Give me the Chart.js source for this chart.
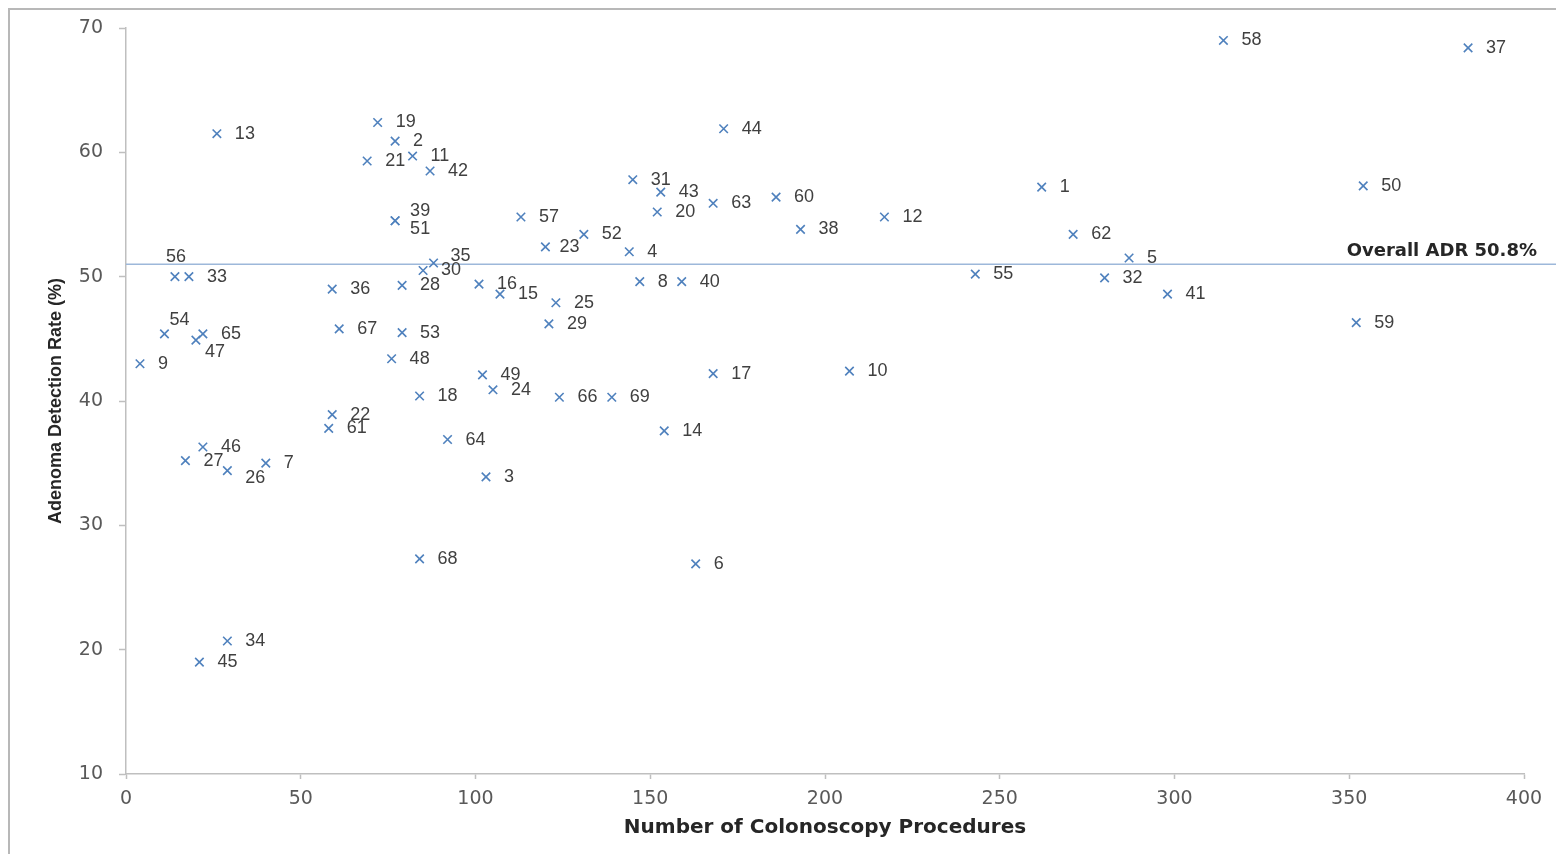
<!DOCTYPE html>
<html>
<head>
<meta charset="utf-8">
<title>ADR vs procedures</title>
<script src="https://cdn.jsdelivr.net/npm/chart.js@4.4.1/dist/chart.umd.min.js"></script>
<style>
  body { margin: 0; background: #fff; }
  #wrap { position: relative; width: 1556px; height: 854px; overflow: hidden; }
  #frame { position: absolute; left: 8px; top: 8px; width: 1700px; height: 1000px;
           border-left: 2px solid #b8b8b8; border-top: 2px solid #b8b8b8; }
  #stage { position: absolute; left: 0; top: 0; }
</style>
</head>
<body>
<div id="wrap">
  <div id="frame"></div>
  <canvas id="stage" width="1556" height="854"></canvas>
</div>
<script>
//「施設番号」
var siteIds = [
   1,  2,  3,  4,  5,  6,  7,  8,  9, 10,
  11, 12, 13, 14, 15, 16, 17, 18, 19, 20,
  21, 22, 23, 24, 25, 26, 27, 28, 29, 30,
  31, 32, 33, 34, 35, 36, 37, 38, 39, 40,
  41, 42, 43, 44, 45, 46, 47, 48, 49, 50,
  51, 52, 53, 54, 55, 56, 57, 58, 59, 60,
  61, 62, 63, 64, 65, 66, 67, 68, 69
];

//「大腸内視鏡の件数」
var procedures = [
  262,  77, 103, 144, 287, 163,  40, 147,   4, 207,
   82, 217,  26, 154, 107, 101, 168,  84,  72, 152,
   69,  59, 120, 105, 123,  29,  17,  79, 121,  85,
  145, 280,  18,  29,  88,  59, 384, 193,  77, 159,
  298,  87, 153, 171,  21,  22,  20,  76, 102, 354,
   77, 131,  79,  11, 243,  14, 113, 314, 352, 186,
   58, 271, 168,  92,  22, 124,  61,  84, 139
];

//「腺腫発見率 (%)」
var adrValues = [
  57.2, 60.9, 33.9, 52.0, 51.5, 26.9, 35.0, 49.6, 43.0, 42.4,
  59.7, 54.8, 61.5, 37.6, 48.6, 49.4, 42.2, 40.4, 62.4, 55.2,
  59.3, 38.9, 52.4, 40.9, 47.9, 34.4, 35.2, 49.3, 46.2, 50.5,
  57.8, 49.9, 50.0, 20.7, 51.1, 49.0, 68.4, 53.8, 54.5, 49.6,
  48.6, 58.5, 56.8, 61.9, 19.0, 36.3, 44.9, 43.4, 42.1, 57.3,
  54.5, 53.4, 45.5, 45.4, 50.2, 50.0, 54.8, 69.0, 46.3, 56.4,
  37.8, 53.4, 55.9, 36.9, 45.4, 40.3, 45.8, 27.3, 40.3
];

// overall line
var overallAdr = 51.0;
var overallText = 'Overall ADR 50.8%';
var overallSpan = [0, 410];

// tick values
var xTickValues = [0, 50, 100, 150, 200, 250, 300, 350, 400];
var yTickValues = [10, 20, 30, 40, 50, 60, 70];

// label offsets (px) for crowded points, default is right of the marker
var labelShift = {
  56: [-9, -20], 54: [5, -14], 47: [9, 12], 26: [18, 7],
  39: [15, -10], 51: [15, 8], 35: [17, -7], 23: [14, 0]
};

var points = procedures.map(function (p, i) {
  return { x: p, y: adrValues[i] };
});

var axisGray = '#bfbfbf';
var tickGray = '#595959';

var pointLabels = {
  id: 'pointLabels',
  afterDatasetsDraw: function (chart) {
    var ctx = chart.ctx;
    var meta = chart.getDatasetMeta(0);
    ctx.save();
    ctx.font = '18px "Liberation Sans"';
    ctx.fillStyle = '#404040';
    ctx.textBaseline = 'middle';
    ctx.textAlign = 'left';
    meta.data.forEach(function (pt, i) {
      var s = labelShift[siteIds[i]] || [18, 0];
      ctx.fillText(String(siteIds[i]), pt.x + s[0], pt.y + s[1]);
    });
    var y = chart.scales.y.getPixelForValue(overallAdr);
    ctx.font = 'bold 18px "DejaVu Sans"';
    ctx.fillStyle = '#262626';
    ctx.textAlign = 'right';
    ctx.fillText(overallText, chart.width - 19, y - 13);
    ctx.restore();
  }
};

var canvas = document.getElementById('stage');
var chart = new Chart(canvas, {
  type: 'scatter',
  data: {
    datasets: [
      {
        label: 'sites',
        data: points,
        pointStyle: 'crossRot',
        pointRadius: 6,
        pointBorderWidth: 1.6,
        borderColor: '#4f81bd',
        backgroundColor: '#4f81bd'
      },
      {
        type: 'line',
        label: 'overall',
        data: overallSpan.map(function (x) { return { x: x, y: overallAdr }; }),
        borderColor: '#9db8da',
        borderWidth: 1.6,
        pointRadius: 0,
        clip: false
      }
    ]
  },
  options: {
    responsive: false,
    animation: false,
    layout: { padding: { top: 28, right: 32, left: 0, bottom: 0 } },
    plugins: {
      legend: { display: false },
      tooltip: { enabled: false }
    },
    scales: {
      x: {
        type: 'linear',
        min: 0,
        max: 400,
        afterBuildTicks: function (s) { s.ticks = xTickValues.map(function (v) { return { value: v }; }); },
        afterFit: function (s) { s.height = 80; },
        grid: { drawOnChartArea: false, tickLength: 5, color: axisGray, tickWidth: 1.5 },
        border: { color: axisGray, width: 1.5 },
        ticks: { color: tickGray, padding: 9, maxRotation: 0, font: { family: 'DejaVu Sans', size: 19 } },
        title: {
          display: true,
          text: 'Number of Colonoscopy Procedures',
          color: '#262626',
          padding: { top: 0, bottom: 14 },
          font: { family: 'DejaVu Sans', size: 20, weight: 'bold' }
        }
      },
      y: {
        min: 10,
        max: 70,
        afterBuildTicks: function (s) { s.ticks = yTickValues.map(function (v) { return { value: v }; }); },
        afterFit: function (s) { s.width = 126; },
        grid: { drawOnChartArea: false, tickLength: 7, color: axisGray, tickWidth: 1.5 },
        border: { color: axisGray, width: 1.5 },
        ticks: { color: tickGray, padding: 16, font: { family: 'DejaVu Sans', size: 19 } },
        title: {
          display: true,
          text: 'Adenoma Detection Rate (%)',
          color: '#262626',
          padding: { top: 45, bottom: 0 },
          font: { family: 'Liberation Sans', size: 18, weight: 'bold' }
        }
      }
    }
  },
  plugins: [pointLabels]
});
</script>
</body>
</html>
